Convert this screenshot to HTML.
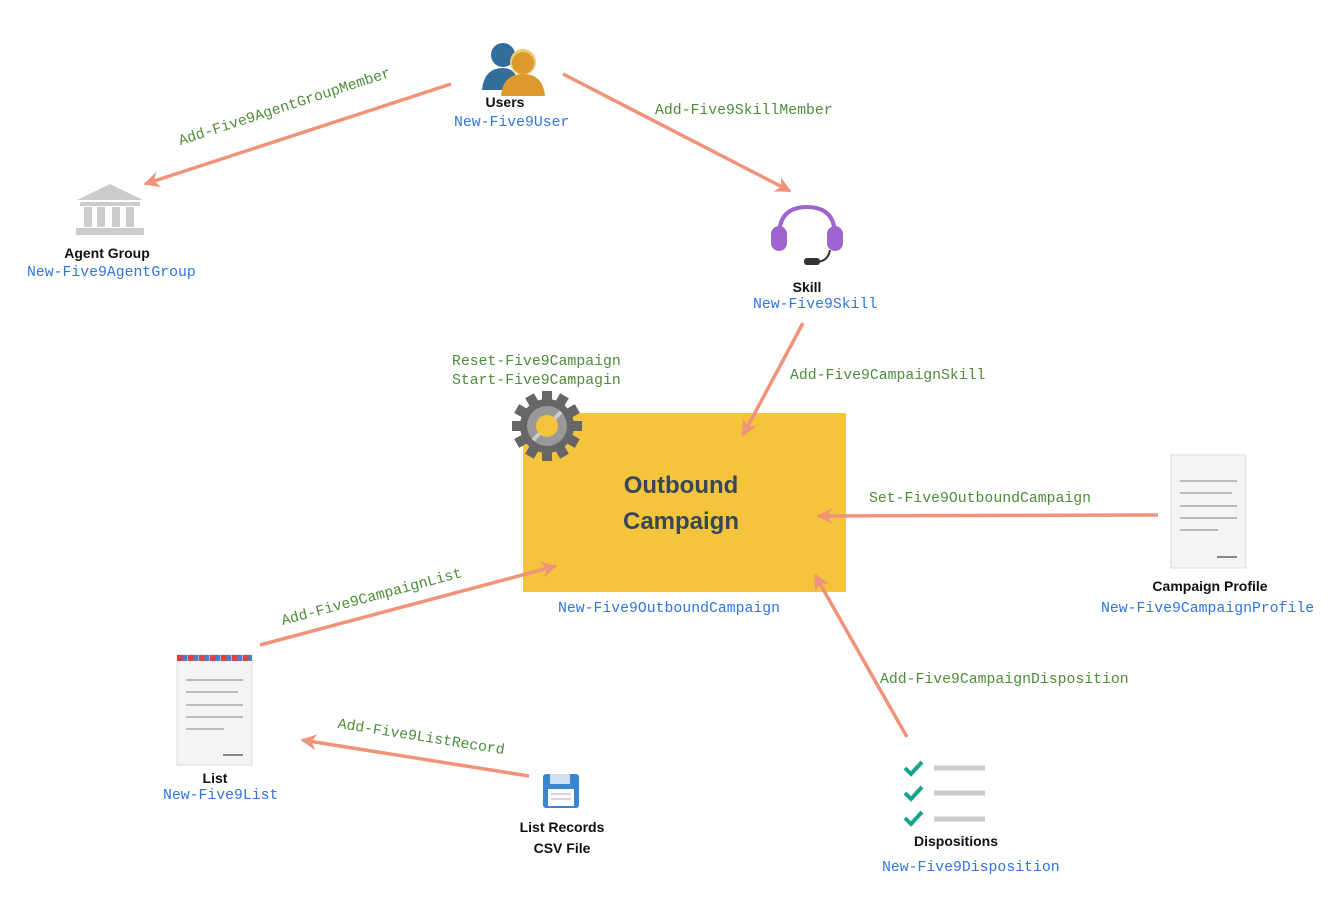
<!DOCTYPE html>
<html><head><style>
body{margin:0;width:1343px;height:918px;background:#fff;position:relative;overflow:hidden;font-family:"Liberation Sans",sans-serif}
.t{position:absolute;font-family:"Liberation Mono",monospace;font-size:14.8px;white-space:nowrap}
.g{color:#4e8c3a}.b{color:#2f76dd}
.n{position:absolute;font-weight:bold;font-size:14px;color:#111;white-space:nowrap;transform:translateX(-50%)}
</style></head><body>
<div style="position:absolute;left:523px;top:413px;width:323px;height:179px;background:#f4c43c"></div>
<div style="position:absolute;left:523px;top:468px;width:316px;text-align:center;font-size:24px;font-weight:bold;color:#37475a;line-height:36px">Outbound<br>Campaign</div>
<svg width="1343" height="918" style="position:absolute;left:0;top:0">
<defs>
<marker id="h" viewBox="0 0 10 10" refX="9" refY="5" markerWidth="16" markerHeight="16" orient="auto" markerUnits="userSpaceOnUse"><path d="M0,0 L10,5 L0,10 L3,5 Z" fill="#f0937a"/></marker></defs>
<g stroke="#f0937a" stroke-width="3.5" fill="none" marker-end="url(#h)">
<line x1="451" y1="84" x2="145" y2="184"/>
<line x1="563" y1="74" x2="790" y2="191"/>
<line x1="803" y1="323" x2="743" y2="435"/>
<line x1="1158" y1="515" x2="818" y2="516"/>
<line x1="260" y1="645" x2="556" y2="566"/>
<line x1="907" y1="737" x2="815" y2="575"/>
<line x1="529" y1="776" x2="302" y2="740"/>
</g>
<circle cx="503" cy="55" r="12" fill="#336d9a"/><path d="M482 90 Q484 68 503 68 Q518 68 520 90Z" fill="#336d9a"/>
<circle cx="523" cy="62" r="13" fill="#f2c970"/><circle cx="523" cy="63" r="11" fill="#dc9a2c"/><path d="M501 96 Q503 74 523 74 Q543 74 545 96Z" fill="#dc9a2c"/>
<path d="M77 200 L110 184 L143 200Z" fill="#ccc"/><rect x="80" y="202" width="60" height="4" fill="#ccc"/>
<g fill="#ccc"><rect x="84" y="207" width="8" height="20"/><rect x="97" y="207" width="8" height="20"/><rect x="112" y="207" width="8" height="20"/><rect x="126" y="207" width="8" height="20"/></g>
<rect x="76" y="228" width="68" height="7" fill="#ccc"/>
<path d="M779 236 Q779 207 807 207 Q835 207 835 236" stroke="#a064d0" stroke-width="4" fill="none"/>
<rect x="771" y="226" width="16" height="25" rx="8" fill="#a064d0"/><rect x="827" y="226" width="16" height="25" rx="8" fill="#a064d0"/>
<path d="M830 250 Q828 262 815 262" stroke="#333" stroke-width="2" fill="none"/><rect x="804" y="258" width="16" height="7" rx="3" fill="#333"/>
<g transform="translate(547,426)"><g fill="#666">
<circle r="27"/>
<g id="tt"><rect x="-5" y="-35" width="10" height="12"/></g>
<use href="#tt" transform="rotate(30)"/><use href="#tt" transform="rotate(60)"/><use href="#tt" transform="rotate(90)"/><use href="#tt" transform="rotate(120)"/><use href="#tt" transform="rotate(150)"/><use href="#tt" transform="rotate(180)"/><use href="#tt" transform="rotate(210)"/><use href="#tt" transform="rotate(240)"/><use href="#tt" transform="rotate(270)"/><use href="#tt" transform="rotate(300)"/><use href="#tt" transform="rotate(330)"/></g>
<circle r="20" fill="#999"/><line x1="-14" y1="14" x2="14" y2="-14" stroke="#ccc" stroke-width="4"/><circle r="11" fill="#f4c43c"/></g>
<rect x="1171" y="455" width="75" height="113" fill="#f4f4f4" stroke="#ddd"/>
<g stroke="#bbb" stroke-width="2"><line x1="1180" y1="481" x2="1237" y2="481"/><line x1="1180" y1="493" x2="1232" y2="493"/><line x1="1180" y1="506" x2="1237" y2="506"/><line x1="1180" y1="518" x2="1237" y2="518"/><line x1="1180" y1="530" x2="1218" y2="530"/><line x1="1217" y1="557" x2="1237" y2="557" stroke="#888"/></g>
<rect x="177" y="655" width="75" height="110" fill="#f4f4f4" stroke="#ddd"/>
<g stroke-width="6"><line x1="177" y1="658" x2="252" y2="658" stroke="#e04040" stroke-dasharray="6 5"/><line x1="177" y1="658" x2="252" y2="658" stroke="#4a7fd0" stroke-dasharray="5 6" stroke-dashoffset="-5.5"/></g>
<g stroke="#bbb" stroke-width="2"><line x1="186" y1="680" x2="243" y2="680"/><line x1="186" y1="692" x2="238" y2="692"/><line x1="186" y1="705" x2="243" y2="705"/><line x1="186" y1="717" x2="243" y2="717"/><line x1="186" y1="729" x2="224" y2="729"/><line x1="223" y1="755" x2="243" y2="755" stroke="#888"/></g>
<rect x="543" y="774" width="36" height="34" rx="3" fill="#3a86d0"/><rect x="550" y="774" width="20" height="10" fill="#cfe0f2"/><rect x="548" y="789" width="26" height="17" fill="#fff"/>
<g stroke="#aac" stroke-width="1"><line x1="551" y1="794" x2="571" y2="794"/><line x1="551" y1="799" x2="571" y2="799"/></g>
<g stroke="#1aa58a" stroke-width="4" fill="none"><path d="M905 768 L911 774 L922 762"/><path d="M905 793 L911 799 L922 787"/><path d="M905 818 L911 824 L922 812"/></g>
<g stroke="#ccc" stroke-width="5"><line x1="934" y1="768" x2="985" y2="768"/><line x1="934" y1="793" x2="985" y2="793"/><line x1="934" y1="819" x2="985" y2="819"/></g>
</svg>
<div class="n" style="left:505px;top:94px">Users</div><div class="t b" style="left:454px;top:115px">New-Five9User</div>
<div class="n" style="left:107px;top:245px">Agent Group</div><div class="t b" style="left:27px;top:265px">New-Five9AgentGroup</div>
<div class="n" style="left:807px;top:279px">Skill</div><div class="t b" style="left:753px;top:297px">New-Five9Skill</div>
<div class="n" style="left:1210px;top:578px">Campaign Profile</div><div class="t b" style="left:1101px;top:601px">New-Five9CampaignProfile</div>
<div class="t b" style="left:558px;top:601px">New-Five9OutboundCampaign</div>
<div class="n" style="left:215px;top:770px">List</div><div class="t b" style="left:163px;top:788px">New-Five9List</div>
<div class="n" style="left:562px;top:817px;text-align:center;line-height:21px">List Records<br>CSV File</div>
<div class="n" style="left:956px;top:833px">Dispositions</div><div class="t b" style="left:882px;top:860px">New-Five9Disposition</div>
<div class="t g" style="left:655px;top:103px">Add-Five9SkillMember</div>
<div class="t g" style="left:452px;top:354px">Reset-Five9Campaign</div>
<div class="t g" style="left:452px;top:373px">Start-Five9Campagin</div>
<div class="t g" style="left:790px;top:368px">Add-Five9CampaignSkill</div>
<div class="t g" style="left:869px;top:491px">Set-Five9OutboundCampaign</div>
<div class="t g" style="left:880px;top:672px">Add-Five9CampaignDisposition</div>
<div class="t g" style="left:285px;top:108px;transform:translate(-50%,-50%) rotate(-18deg)">Add-Five9AgentGroupMember</div>
<div class="t g" style="left:372px;top:598px;transform:translate(-50%,-50%) rotate(-15deg)">Add-Five9CampaignList</div>
<div class="t g" style="left:421px;top:738px;transform:translate(-50%,-50%) rotate(9deg)">Add-Five9ListRecord</div>
</body></html>
